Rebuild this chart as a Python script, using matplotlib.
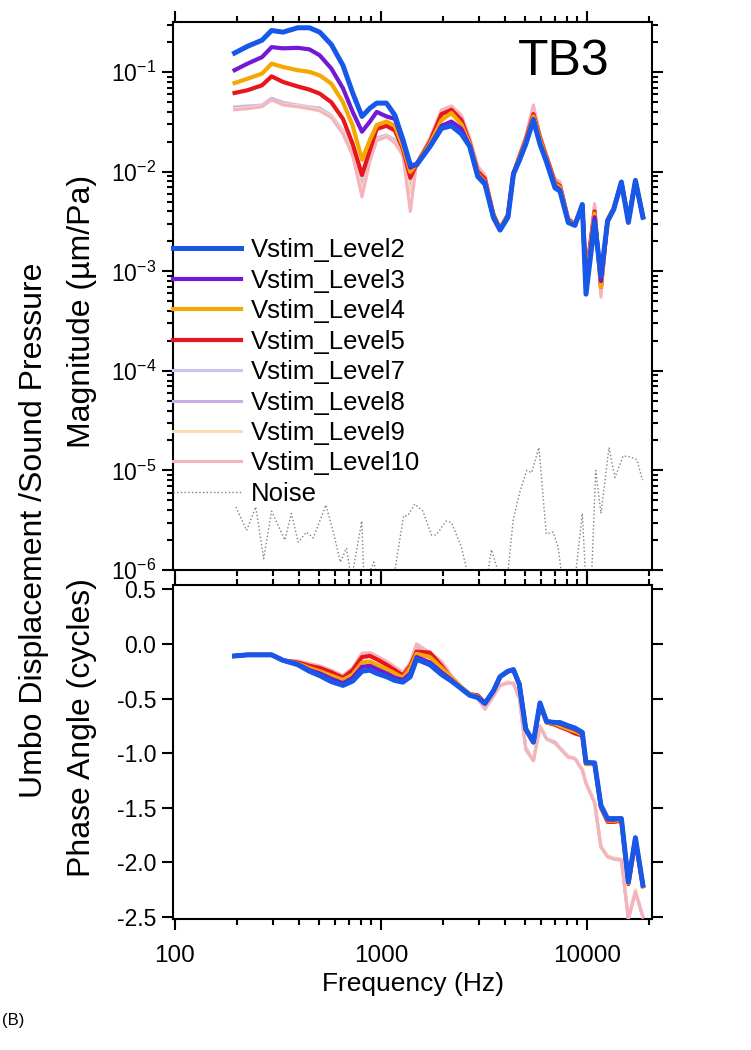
import numpy as np
import matplotlib.pyplot as plt
from matplotlib import ticker

plt.rcParams['font.family'] = ['Liberation Sans', 'DejaVu Sans']
plt.rcParams['axes.unicode_minus'] = False
plt.rcParams['mathtext.default'] = 'regular'

# frequency grid (Hz) shared by all stimulus levels
freq = [195, 225, 265, 295, 335, 395, 450, 505, 575, 655, 730, 810, 885, 955,
        1065, 1170, 1280, 1390, 1490, 1730, 1970, 2200, 2460, 2700, 2950, 3200,
        3520, 3790, 4140, 4400, 4700, 5050, 5500, 5920, 6370, 7000, 7400, 8120,
        8750, 9500, 9900, 10900, 11700, 12600, 13500, 14700, 15900, 17200, 18700]

# magnitude (um/Pa)
mag_l2 = [0.156, 0.182, 0.21, 0.263, 0.253, 0.28, 0.28, 0.253, 0.19, 0.117, 0.062, 0.036, 0.0436, 0.049,
          0.049, 0.037, 0.021, 0.0117, 0.0117, 0.0179, 0.0273, 0.029, 0.024, 0.018, 0.009, 0.0075,
          0.0035, 0.0026, 0.0035, 0.0095, 0.013, 0.019, 0.033, 0.019, 0.0125, 0.0069, 0.0064, 0.0031,
          0.0029, 0.0047, 0.00059, 0.0031, 0.0009, 0.0032, 0.0042, 0.0079, 0.0031, 0.0082, 0.0035]
mag_l3 = [0.105, 0.122, 0.142, 0.179, 0.174, 0.176, 0.17, 0.148, 0.109, 0.069, 0.040, 0.0253, 0.032, 0.040,
          0.036, 0.034, 0.020, 0.011, 0.012, 0.018, 0.029, 0.032, 0.027, 0.018, 0.0092, 0.0078,
          0.0034, 0.0026, 0.0036, 0.0096, 0.013, 0.019, 0.034, 0.019, 0.013, 0.0072, 0.0066, 0.0031,
          0.0029, 0.0046, 0.0007, 0.0035, 0.0008, 0.0032, 0.0042, 0.0078, 0.0032, 0.0081, 0.0035]
mag_l4 = [0.078, 0.086, 0.097, 0.122, 0.113, 0.105, 0.101, 0.093, 0.077, 0.05, 0.029, 0.0132, 0.021, 0.0295,
          0.032, 0.029, 0.018, 0.010, 0.012, 0.019, 0.033, 0.039, 0.030, 0.019, 0.0095, 0.008,
          0.0036, 0.0027, 0.0037, 0.0096, 0.0135, 0.020, 0.036, 0.021, 0.0135, 0.0075, 0.007, 0.0032,
          0.003, 0.0045, 0.0008, 0.0038, 0.0007, 0.0033, 0.0043, 0.0078, 0.0033, 0.008, 0.0036]
mag_l5 = [0.062, 0.066, 0.074, 0.091, 0.08, 0.072, 0.067, 0.061, 0.05, 0.034, 0.019, 0.0093, 0.0166, 0.027,
          0.029, 0.026, 0.017, 0.0087, 0.012, 0.020, 0.038, 0.042, 0.033, 0.0195, 0.0101, 0.0085,
          0.0037, 0.0027, 0.0037, 0.0097, 0.014, 0.021, 0.038, 0.022, 0.014, 0.0078, 0.0072, 0.0033,
          0.003, 0.0045, 0.0009, 0.004, 0.0007, 0.0033, 0.0043, 0.0078, 0.0033, 0.008, 0.0036]
mag_l7 = [0.045, 0.046, 0.047, 0.055, 0.05, 0.047, 0.045, 0.044, 0.037, 0.026, 0.0155, 0.0075, 0.014, 0.022,
          0.0235, 0.021, 0.015, 0.007, 0.012, 0.021, 0.040, 0.044, 0.035, 0.021, 0.011, 0.0088,
          0.0038, 0.0027, 0.0038, 0.0098, 0.0145, 0.022, 0.042, 0.023, 0.0145, 0.008, 0.0075, 0.0034,
          0.003, 0.0044, 0.0009, 0.0045, 0.0006, 0.0033, 0.0043, 0.0077, 0.0033, 0.0079, 0.0036]
mag_l8 = [0.044, 0.045, 0.046, 0.054, 0.049, 0.046, 0.044, 0.043, 0.036, 0.025, 0.015, 0.007, 0.0135, 0.0215,
          0.023, 0.0205, 0.015, 0.0065, 0.012, 0.021, 0.041, 0.045, 0.036, 0.021, 0.011, 0.009,
          0.0038, 0.0027, 0.0038, 0.0098, 0.0145, 0.022, 0.043, 0.023, 0.0145, 0.0081, 0.0076, 0.0034,
          0.003, 0.0044, 0.0008, 0.0046, 0.0006, 0.0033, 0.0043, 0.0077, 0.0033, 0.0079, 0.0036]
mag_l9 = [0.043, 0.044, 0.046, 0.053, 0.048, 0.046, 0.044, 0.042, 0.036, 0.025, 0.0148, 0.0065, 0.013, 0.021,
          0.023, 0.020, 0.0148, 0.006, 0.012, 0.021, 0.041, 0.045, 0.036, 0.021, 0.0112, 0.009,
          0.0038, 0.0027, 0.0038, 0.0098, 0.0145, 0.022, 0.044, 0.023, 0.0145, 0.0082, 0.0077, 0.0034,
          0.003, 0.0044, 0.0008, 0.0047, 0.0006, 0.0033, 0.0043, 0.0077, 0.0033, 0.0079, 0.0036]
mag_l10 = [0.042, 0.043, 0.045, 0.053, 0.047, 0.045, 0.043, 0.041, 0.035, 0.024, 0.0145, 0.0056, 0.0128, 0.0205,
           0.0225, 0.0195, 0.0145, 0.004, 0.012, 0.022, 0.042, 0.046, 0.037, 0.022, 0.0115, 0.0092,
           0.0039, 0.0027, 0.0039, 0.0099, 0.015, 0.023, 0.047, 0.024, 0.015, 0.0085, 0.008, 0.0035,
           0.003, 0.0044, 0.0009, 0.0048, 0.00055, 0.0033, 0.0043, 0.0077, 0.0033, 0.0079, 0.0036]

# phase (cycles)
ph_l2 = [-0.11, -0.10, -0.10, -0.10, -0.15, -0.19, -0.25, -0.29, -0.345, -0.38, -0.34, -0.25, -0.24, -0.27,
         -0.30, -0.335, -0.35, -0.30, -0.14, -0.19, -0.28, -0.34, -0.41, -0.47, -0.49, -0.545,
         -0.43, -0.30, -0.25, -0.235, -0.37, -0.78, -0.90, -0.54, -0.71, -0.72, -0.72, -0.75,
         -0.77, -0.81, -1.085, -1.09, -1.48, -1.60, -1.60, -1.60, -2.18, -1.775, -2.21]
ph_l3 = [-0.11, -0.10, -0.10, -0.10, -0.15, -0.185, -0.24, -0.27, -0.32, -0.36, -0.31, -0.21, -0.20, -0.23,
         -0.27, -0.31, -0.33, -0.27, -0.12, -0.17, -0.26, -0.33, -0.41, -0.47, -0.49, -0.545,
         -0.43, -0.30, -0.25, -0.24, -0.37, -0.78, -0.90, -0.55, -0.71, -0.72, -0.73, -0.76,
         -0.78, -0.82, -1.09, -1.09, -1.48, -1.61, -1.61, -1.60, -2.18, -1.78, -2.21]
ph_l4 = [-0.11, -0.10, -0.10, -0.10, -0.15, -0.18, -0.22, -0.25, -0.29, -0.33, -0.28, -0.17, -0.16, -0.19,
         -0.23, -0.27, -0.31, -0.22, -0.09, -0.12, -0.22, -0.31, -0.40, -0.46, -0.48, -0.545,
         -0.43, -0.30, -0.25, -0.24, -0.37, -0.78, -0.90, -0.55, -0.72, -0.73, -0.75, -0.78,
         -0.80, -0.83, -1.10, -1.10, -1.49, -1.62, -1.62, -1.61, -2.19, -1.79, -2.22]
ph_l5 = [-0.11, -0.10, -0.10, -0.10, -0.15, -0.17, -0.20, -0.22, -0.26, -0.31, -0.24, -0.12, -0.11, -0.14,
         -0.19, -0.24, -0.29, -0.20, -0.07, -0.08, -0.20, -0.32, -0.40, -0.46, -0.47, -0.54,
         -0.43, -0.30, -0.25, -0.24, -0.37, -0.78, -0.90, -0.55, -0.72, -0.74, -0.76, -0.79,
         -0.82, -0.84, -1.10, -1.10, -1.50, -1.63, -1.63, -1.62, -2.20, -1.80, -2.22]
ph_l7 = [-0.11, -0.10, -0.10, -0.10, -0.15, -0.16, -0.19, -0.21, -0.25, -0.30, -0.23, -0.10, -0.09, -0.12,
         -0.17, -0.22, -0.27, -0.18, -0.01, -0.09, -0.17, -0.30, -0.39, -0.46, -0.50, -0.58,
         -0.47, -0.38, -0.35, -0.36, -0.50, -0.95, -1.07, -0.75, -0.87, -0.90, -0.95, -1.03,
         -1.05, -1.15, -1.27, -1.45, -1.86, -1.95, -1.97, -1.98, -2.52, -2.27, -2.50]
ph_l8 = [-0.11, -0.10, -0.10, -0.10, -0.15, -0.165, -0.19, -0.22, -0.26, -0.30, -0.24, -0.11, -0.10, -0.13,
         -0.18, -0.23, -0.28, -0.19, -0.02, -0.10, -0.18, -0.30, -0.39, -0.46, -0.50, -0.58,
         -0.47, -0.38, -0.35, -0.36, -0.50, -0.95, -1.07, -0.75, -0.87, -0.90, -0.95, -1.03,
         -1.05, -1.15, -1.27, -1.45, -1.86, -1.95, -1.97, -1.98, -2.52, -2.27, -2.50]
ph_l9 = [-0.11, -0.10, -0.10, -0.10, -0.15, -0.16, -0.18, -0.21, -0.24, -0.29, -0.22, -0.09, -0.08, -0.11,
         -0.16, -0.21, -0.26, -0.17, 0.0, -0.08, -0.16, -0.29, -0.39, -0.46, -0.50, -0.59,
         -0.48, -0.38, -0.35, -0.36, -0.50, -0.96, -1.07, -0.75, -0.87, -0.91, -0.95, -1.03,
         -1.05, -1.15, -1.27, -1.45, -1.85, -1.94, -1.96, -1.97, -2.50, -2.25, -2.50]
ph_l10 = [-0.11, -0.10, -0.10, -0.10, -0.15, -0.155, -0.18, -0.20, -0.24, -0.29, -0.22, -0.085, -0.08, -0.11,
          -0.16, -0.21, -0.26, -0.17, 0.0, -0.08, -0.16, -0.29, -0.39, -0.46, -0.50, -0.60,
          -0.48, -0.38, -0.36, -0.36, -0.50, -0.97, -1.07, -0.76, -0.87, -0.91, -0.96, -1.04,
          -1.05, -1.16, -1.28, -1.46, -1.86, -1.95, -1.97, -1.98, -2.52, -2.27, -2.50]

# noise floor (separate frequency grid)
noise_freq = [198, 223, 247, 270, 295, 342, 368, 397, 435, 470, 541, 588, 636, 681, 720, 808, 830, 925,
              1000, 1170, 1290, 1350, 1460, 1600, 1760, 1860, 2070, 2200, 2460, 2720, 3320, 3440, 3690,
              4100, 4390, 4730, 5100, 5390, 5850, 6350, 6860, 7250, 7660, 8700, 9500, 9900, 10500,
              11030, 11710, 12800, 13670, 15000, 16200, 17500, 18600]
noise_mag = [4.3e-6, 2.5e-6, 4.3e-6, 1.3e-6, 3.9e-6, 2.0e-6, 3.7e-6, 1.9e-6, 2.4e-6, 2.1e-6, 4.5e-6,
             2.4e-6, 1.2e-6, 1.66e-6, 0.8e-6, 3.1e-6, 0.7e-6, 1.2e-6, 0.6e-6, 1.0e-6, 3.5e-6, 3.5e-6,
             4.6e-6, 3.9e-6, 2.25e-6, 2.25e-6, 3.1e-6, 3.0e-6, 1.7e-6, 0.7e-6, 1.0e-6, 1.6e-6, 1.0e-6,
             0.8e-6, 3.2e-6, 6.1e-6, 1.0e-5, 9.5e-6, 1.7e-5, 2.3e-6, 2.4e-6, 1.7e-6, 0.7e-6, 0.7e-6,
             3.7e-6, 0.7e-6, 0.7e-6, 1.0e-5, 3.7e-6, 1.7e-5, 8.5e-6, 1.4e-5, 1.37e-5, 1.28e-5, 8e-6]

labels = ['Vstim_Level2', 'Vstim_Level3', 'Vstim_Level4', 'Vstim_Level5',
          'Vstim_Level7', 'Vstim_Level8', 'Vstim_Level9', 'Vstim_Level10']
colors = ['#1858e8', '#7418d4', '#f5a800', '#e8161c', '#c9c6f2', '#c7aee6', '#fbdcb5', '#f4b3bd']
widths = [3.6, 3.0, 3.0, 3.0, 2.2, 2.2, 2.2, 2.2]
mags = [mag_l2, mag_l3, mag_l4, mag_l5, mag_l7, mag_l8, mag_l9, mag_l10]
phases = [ph_l2, ph_l3, ph_l4, ph_l5, ph_l7, ph_l8, ph_l9, ph_l10]
# drawing order: pale levels first (Level10 on top of them), then 5, 4, 3, 2
zord = [10, 9, 8, 7, 3, 4, 5, 6]

fig = plt.figure(figsize=(7.51, 10.5), dpi=100)
W, H = 751, 1050
ax1 = fig.add_axes([173/W, 1-570/H, 479/W, 548/H])
ax2 = fig.add_axes([173/W, 1-919/H, 479/W, 334/H])

handles = []
for i in range(8):
    h, = ax1.plot(freq, mags[i], color=colors[i], lw=widths[i], label=labels[i], zorder=zord[i])
    handles.append(h)
    ax2.plot(freq, phases[i], color=colors[i], lw=widths[i], zorder=zord[i])
hn, = ax1.plot(noise_freq, noise_mag, color='#808080', lw=1.0, ls=':', label='Noise')

for ax in (ax1, ax2):
    ax.set_xscale('log')
    ax.set_xlim(98, 20700)
    for s in ax.spines.values():
        s.set_linewidth(1.5)
    ax.tick_params(which='both', direction='out', width=1.5, top=True, right=True)
    ax.tick_params(which='major', length=8)
    ax.tick_params(which='minor', length=4.5)
    ax.tick_params(axis='y', labelsize=16.5, pad=4)
    ax.tick_params(axis='x', labelsize=17.5, pad=10.5)
    ax.xaxis.set_minor_locator(ticker.LogLocator(base=10, subs=np.arange(2, 10), numticks=20))
    ax.xaxis.set_minor_formatter(ticker.NullFormatter())

ax1.set_yscale('log')
ax1.set_ylim(1e-6, 0.32)
ax1.yaxis.set_minor_locator(ticker.LogLocator(base=10, subs=np.arange(2, 10), numticks=20))
ax1.yaxis.set_minor_formatter(ticker.NullFormatter())
ax1.set_yticks([1e-6, 1e-5, 1e-4, 1e-3, 1e-2, 1e-1])
ax1.set_yticklabels(['$10^{-6}$', '$10^{-5}$', '$10^{-4}$', '$10^{-3}$', '$10^{-2}$', '$10^{-1}$'])
ax1.tick_params(axis='x', labelbottom=False)

ax2.set_ylim(-2.52, 0.54)
yt = [0.5, 0.0, -0.5, -1.0, -1.5, -2.0, -2.5]
ax2.set_yticks(yt)
ax2.set_yticklabels(['%.1f' % v for v in yt])
ax2.set_xticks([100, 1000, 10000])
ax2.set_xticklabels(['100', '1000', '10000'])
ax2.set_xlabel('Frequency (Hz)', fontsize=19, labelpad=4)

ax1.text(0.912, 0.927, 'TB3', transform=ax1.transAxes, ha='right', va='center', fontsize=36)

ax1.legend(handles=handles + [hn], loc='upper left', bbox_to_anchor=(0.0, 0.605),
           frameon=False, fontsize=18.5, handlelength=2.65, handletextpad=0.39,
           labelspacing=0.25, borderpad=0, borderaxespad=0)

fig.text(82/W, 1-311/H, 'Magnitude (\u00b5m/Pa)', rotation=90, ha='center', va='center', fontsize=23)
fig.text(82/W, 1-728/H, 'Phase Angle (cycles)', rotation=90, ha='center', va='center', fontsize=23)
fig.text(34/W, 1-530/H, 'Umbo Displacement /Sound Pressure', rotation=90, ha='center', va='center', fontsize=23)
fig.text(2/W, 1-1020/H, '(B)', ha='left', va='center', fontsize=12)

fig.savefig('out.png', dpi=100)
